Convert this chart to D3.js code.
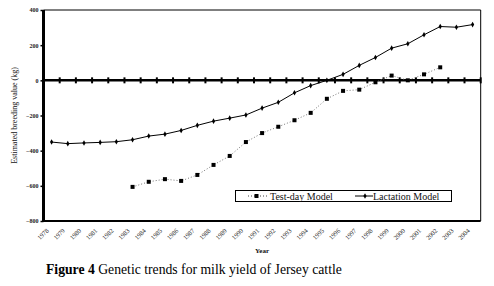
<!DOCTYPE html>
<html>
<head>
<meta charset="utf-8">
<script src="https://cdn.jsdelivr.net/npm/d3@7/dist/d3.min.js"></script>
<style>
  html, body { margin: 0; padding: 0; background: #fff; }
  svg { display: block; font-family: "Liberation Serif", "Times New Roman", serif; }
</style>
</head>
<body>
<svg id="chart" width="494" height="286"></svg>
<script>
const years = ["1978","1979","1980","1981","1982","1983","1984","1985","1986","1987","1988","1989","1990","1991","1992","1993","1994","1995","1996","1997","1998","1999","2000","2001","2002","2003","2004"];
const lactationModel = [-351,-360,-356,-353,-349,-338,-317,-306,-285,-256,-232,-215,-197,-158,-125,-71,-30,0,34,85,130,183,208,259,306,302,317];
const testDayModel = [null,null,null,null,null,-606,-577,-562,-572,-538,-481,-430,-351,-300,-264,-227,-185,-105,-60,-53,-11,27,0,34,74,null,null];
const yTicks = [400,200,0,-200,-400,-600,-800];
const yTitle = "Estimated breeding value (kg)";
const xTitle = "Year";
const legendLabels = ["Test-day Model", "Lactation Model"];
const captionBold = "Figure 4";
const captionText = " Genetic trends for milk yield of Jersey cattle";

const svg = d3.select("#chart");
const L = 43.5, R = 480.7, T = 10, B = 221;

const x = d3.scaleBand().domain(years).range([L, R]).padding(0);
const y = d3.scaleLinear().domain([-800, 400]).range([B, T]);
const cx = d => x(d) + x.bandwidth() / 2;

// frame: top and right thin
svg.append("line").attr("x1", L).attr("x2", R).attr("y1", T).attr("y2", T).attr("stroke", "#000").attr("stroke-width", 1);
svg.append("line").attr("x1", R).attr("x2", R).attr("y1", T).attr("y2", B).attr("stroke", "#000").attr("stroke-width", 1);

// bottom axis with rotated year labels
const xAxis = svg.append("g").attr("transform", `translate(0,${B})`)
  .call(d3.axisBottom(x).tickSize(0).tickPadding(0));
xAxis.select(".domain").attr("stroke", "#000").attr("stroke-width", 2).attr("d", `M${L},0H${R}`);
xAxis.selectAll("text")
  .attr("font-family", "Liberation Serif, Times New Roman, serif")
  .attr("font-size", 6.5)
  .attr("fill", "#222")
  .attr("text-anchor", "end")
  .attr("y", 0).attr("dy", "0.35em")
  .attr("transform", "translate(-4,8.5) rotate(-45)");

// left axis
const yAxis = svg.append("g").attr("transform", `translate(${L},0)`)
  .call(d3.axisLeft(y).tickValues(yTicks).tickSize(3).tickPadding(2).tickFormat(d3.format("d")));
yAxis.select(".domain").attr("stroke", "#000").attr("stroke-width", 3).attr("d", `M0,${T}V${B + 1}`);
yAxis.selectAll(".tick line").attr("stroke", "#000").attr("stroke-width", 1.5);
yAxis.selectAll("text")
  .attr("font-family", "Liberation Serif, Times New Roman, serif")
  .attr("font-size", 6)
  .attr("font-weight", "bold")
  .attr("fill", "#222");

// zero line with cross ticks at band boundaries
svg.append("line").attr("x1", L).attr("x2", R).attr("y1", y(0)).attr("y2", y(0))
  .attr("stroke", "#000").attr("stroke-width", 2.5);
const boundaries = years.map(d => x(d)).slice(1).concat([x(years[years.length - 1]) + x.step()]);
svg.append("g").selectAll("line").data(boundaries).join("line")
  .attr("x1", d => d).attr("x2", d => d)
  .attr("y1", y(0) - 3).attr("y2", y(0) + 3)
  .attr("stroke", "#000").attr("stroke-width", 2);

// test-day series
const tdData = years.map((yr, i) => ({ yr, v: testDayModel[i] })).filter(d => d.v !== null);
svg.append("path").datum(tdData)
  .attr("fill", "none").attr("stroke", "#777").attr("stroke-width", 1)
  .attr("stroke-dasharray", "1,2")
  .attr("d", d3.line().x(d => cx(d.yr)).y(d => y(d.v)));
svg.append("g").selectAll("rect").data(tdData).join("rect")
  .attr("x", d => cx(d.yr) - 2).attr("y", d => y(d.v) - 2)
  .attr("width", 4).attr("height", 4).attr("fill", "#000");

// lactation series
const lacData = years.map((yr, i) => ({ yr, v: lactationModel[i] }));
svg.append("path").datum(lacData)
  .attr("fill", "none").attr("stroke", "#000").attr("stroke-width", 1)
  .attr("d", d3.line().x(d => cx(d.yr)).y(d => y(d.v)));
const diamond = d3.symbol().type(d3.symbolDiamond).size(9);
svg.append("g").selectAll("path").data(lacData).join("path")
  .attr("transform", d => `translate(${cx(d.yr)},${y(d.v)})`)
  .attr("d", diamond).attr("fill", "#000");

// legend
const lg = svg.append("g");
lg.append("rect").attr("x", 235.5).attr("y", 190.5).attr("width", 216).attr("height", 11)
  .attr("fill", "#fff").attr("stroke", "#000").attr("stroke-width", 1);
lg.append("line").attr("x1", 248).attr("x2", 267).attr("y1", 196).attr("y2", 196)
  .attr("stroke", "#444").attr("stroke-width", 1.2).attr("stroke-dasharray", "1,2");
lg.append("rect").attr("x", 254.5).attr("y", 194).attr("width", 4).attr("height", 4).attr("fill", "#000");
lg.append("text").attr("x", 270).attr("y", 199.5).attr("font-size", 10).attr("fill", "#111").text(legendLabels[0]);
lg.append("line").attr("x1", 355).attr("x2", 373).attr("y1", 196).attr("y2", 196)
  .attr("stroke", "#000").attr("stroke-width", 1);
lg.append("path").attr("transform", "translate(365,196)").attr("d", diamond).attr("fill", "#000");
lg.append("text").attr("x", 373).attr("y", 199.5).attr("font-size", 10).attr("fill", "#111").text(legendLabels[1]);

// axis titles
svg.append("text").attr("transform", `translate(17,${(T + B) / 2 + 0}) rotate(-90)`)
  .attr("text-anchor", "middle").attr("font-size", 8).attr("fill", "#111").text(yTitle);
svg.append("text").attr("x", (L + R) / 2).attr("y", 253)
  .attr("text-anchor", "middle").attr("font-size", 7).attr("font-weight", "bold").attr("fill", "#111").text(xTitle);

// caption
const cap = svg.append("text").attr("x", 46).attr("y", 274).attr("font-size", 13.7).attr("fill", "#000");
cap.append("tspan").attr("font-weight", "bold").text(captionBold);
cap.append("tspan").text(captionText);
</script>
</body>
</html>
